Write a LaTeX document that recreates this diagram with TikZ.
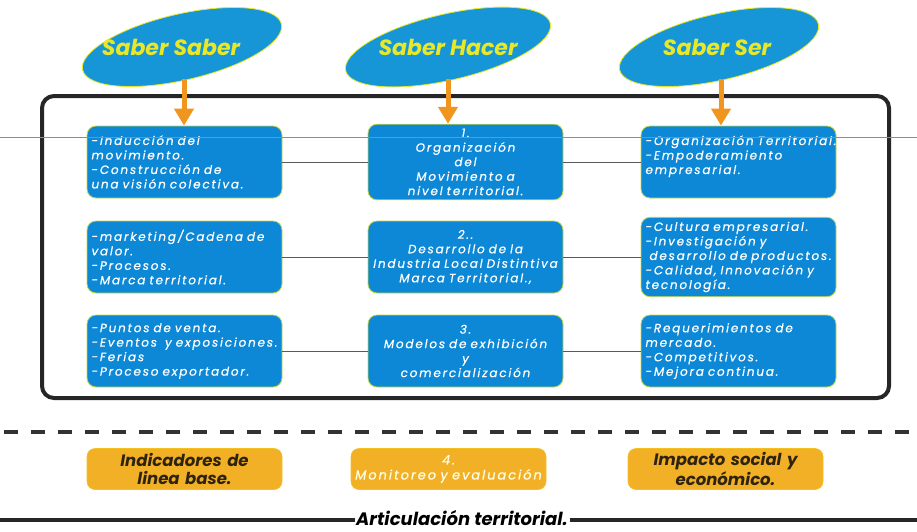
\documentclass[tikz,border=0pt]{standalone}
\usepackage{fontspec}
\usetikzlibrary{shapes.geometric,arrows.meta}
\setmainfont{Poppins}
\newfontfamily\letra[LetterSpace=15, FakeBold=0.6]{Poppins}
\newfontfamily\titulo{Poppins}

\definecolor{azul}{RGB}{12,136,214}
\definecolor{azulclaro}{RGB}{22,150,214}
\definecolor{borde}{RGB}{196,214,70}
\definecolor{amarillo}{RGB}{232,232,40}
\definecolor{naranja}{RGB}{240,150,30}
\definecolor{dorado}{RGB}{242,176,38}
\definecolor{oscuro}{RGB}{45,35,15}
\definecolor{rosa}{RGB}{228,80,215}

\tikzset{
  saber/.style={ellipse, fill=azulclaro, draw=amarillo, line width=0.8pt, inner sep=0pt},
  sabertxt/.style={text=amarillo, font=\titulo\bfseries\itshape\fontsize{22}{25}\selectfont},
  caja/.style={fill=azul, draw=borde, line width=0.8pt, rounded corners=9pt,
    minimum width=195pt, minimum height=72pt, text width=186pt, inner sep=4.5pt,
    text=white, align=left, font=\letra\itshape\fontsize{12}{14.5}\selectfont},
  cajac/.style={caja, align=center},
  indicador/.style={fill=dorado, draw=dorado!80!yellow, line width=0.6pt, rounded corners=8pt,
    minimum width=195pt, minimum height=41pt, text width=190pt, inner sep=2pt, align=center,
    text=oscuro, font=\titulo\bfseries\itshape\fontsize{16.5}{17.5}\selectfont},
  flecha/.style={naranja, line width=5pt, -{Triangle[width=19pt,length=17pt]}},
  enlace/.style={gray!70!black, line width=1pt}
}

\begin{document}
\begin{tikzpicture}[x=1pt, y=-1pt]
\useasboundingbox (0,0) rectangle (917,531);

% marco
\draw[line width=4pt, black!85, rounded corners=12pt] (42,96) rectangle (889,398);

% cajas azules
\node[caja]  (a1) at (184.5,162) {-Inducción del\\movimiento.\\-Construcción de\\una visión colectiva.};
\node[cajac] (b1) at (465.5,162) {1.\\Organización\\del\\Movimiento a\\nivel territorial.};
\node[caja]  (c1) at (738.5,162) {\mbox{-Organización Territorial.}\\-Empoderamiento\\empresarial.\\\mbox{}};

\node[caja]  (a2) at (184.5,257) {-marketing/Cadena de\\valor.\\-Procesos.\\-Marca territorial.};
\node[cajac] (b2) at (465.5,257) {2..\\Desarrollo de la\\\mbox{Industria Local Distintiva}\\Marca Territorial.,};
\node[caja]  (c2) at (738.5,257) {-Cultura empresarial.\\-Investigación y\\\mbox{\ desarrollo de productos.}\\-Calidad, Innovación y\\tecnología.};

\node[caja]  (a3) at (184.5,351) {-Puntos de venta.\\\mbox{-Eventos\ \ y exposiciones.}\\-Ferias\\-Proceso exportador.};
\node[cajac] (b3) at (465.5,351) {3.\\Modelos de exhibición\\y\\comercialización};
\node[caja]  (c3) at (738.5,351) {-Requerimientos de\\mercado.\\-Competitivos.\\-Mejora continua.};

\foreach \f in {1,2,3} {
  \draw[enlace] (a\f.east) -- (b\f.west);
  \draw[enlace] (b\f.east) -- (c\f.west);
}

% saberes
\node[saber, minimum width=204pt, minimum height=66pt, rotate=13] (ss) at (182,47) {};
\node[sabertxt] at (171,47) {Saber Saber};
\node[saber, minimum width=210pt, minimum height=66pt, rotate=13] (sh) at (448,47) {};
\node[sabertxt] at (448,47) {Saber Hacer};
\node[saber, minimum width=204pt, minimum height=66pt, rotate=13] (sr) at (719,47) {};
\node[sabertxt] at (717,47) {Saber Ser};

\draw[flecha, shorten <=32pt] (ss.center) ++(2,0) coordinate (s1) -- (s1 |- a1.north);
\draw[flecha, shorten <=32pt] (sh.center) -- (sh.center |- b1.north);
\draw[flecha, shorten <=32pt] (sr.center) ++(2,0) coordinate (s3) -- (s3 |- c1.north);

% linea discontinua
\draw[line width=3.5pt, black!80, dash pattern=on 14pt off 13pt] (4,432) -- (917,432);

% indicadores
\node[indicador] (i1) at (184.5,469) {Indicadores de\\linea base.};
\node[indicador, text=white!90!yellow, font=\letra\itshape\fontsize{13}{15}\selectfont] (i2) at (448.5,469) {4.\\Monitoreo y evaluación};
\node[indicador] (i3) at (725.5,469) {Impacto social y\\económico.};

% articulacion
\node[font=\titulo\bfseries\itshape\fontsize{18}{20}\selectfont, inner sep=1.5pt] (art) at (462,518) {Articulación territorial.};
\coordinate (izq) at (0,520);
\coordinate (der) at (917,520);
\draw[line width=3.5pt, black!85] (izq) -- (art.west |- izq);
\draw[line width=3.5pt, black!85] (art.east |- der) -- (der);

% trazo rosa
\draw[rosa, line width=0.8pt] (0,137) -- (917,137);
\end{tikzpicture}
\end{document}
